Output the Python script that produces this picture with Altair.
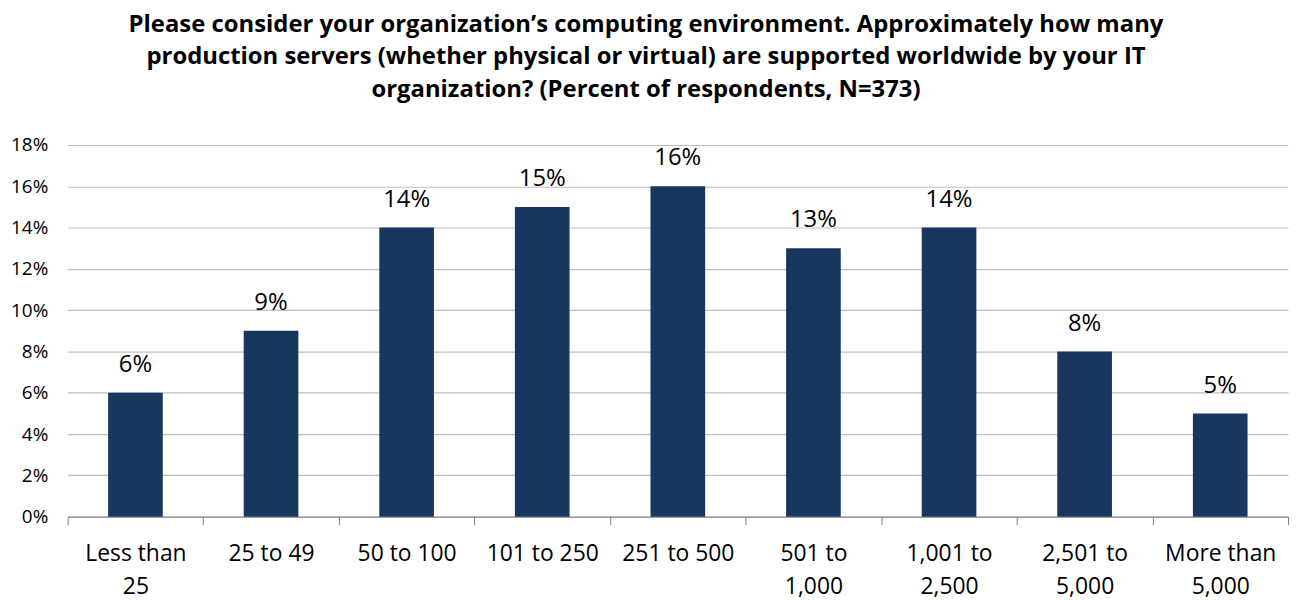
import altair as alt
import pandas as pd

categories = ["Less than\n25", "25 to 49", "50 to 100", "101 to 250", "251 to 500",
              "501 to\n1,000", "1,001 to\n2,500", "2,501 to\n5,000", "More than\n5,000"]
values = [6, 9, 14, 15, 16, 13, 14, 8, 5]
y_ticks = [0, 2, 4, 6, 8, 10, 12, 14, 16, 18]
title_lines = [
    "Please consider your organization\u2019s computing environment. Approximately how many",
    "production servers (whether physical or virtual) are supported worldwide by your IT",
    "organization? (Percent of respondents, N=373)",
]

df = pd.DataFrame({"cat": categories, "val": values})
df["lab"] = df["val"].astype(str) + "%"

FONT = "Open Sans"
BAR = "#17375E"

x = alt.X("cat:N", sort=categories, title=None,
          scale=alt.Scale(paddingInner=0, paddingOuter=0),
          axis=alt.Axis(labelAngle=0, labelFontSize=23, labelLineHeight=33,
                        labelExpr="split(datum.label, '\\n')", labelColor="#000000",
                        labelFont=FONT, labelPadding=18, tickBand="extent",
                        tickSize=8, tickColor="#7F7F7F", domainColor="#7F7F7F",
                        labelBaseline="top", grid=False))
y = alt.Y("val:Q", title=None,
          scale=alt.Scale(domain=[0, 18], nice=False),
          axis=alt.Axis(values=y_ticks, labelExpr="datum.value + '%'",
                        labelFontSize=19, labelFont=FONT, labelColor="#000000",
                        labelPadding=20, domain=False, ticks=False, grid=True,
                        gridColor="#BFBFBF", gridWidth=1.2))

bars = alt.Chart(df).mark_bar(color=BAR, size=55).encode(x=x, y=y)
labels = alt.Chart(df).mark_text(fontSize=24, font=FONT, color="#000000",
                                 baseline="alphabetic", dy=-21).encode(
    x=alt.X("cat:N", sort=categories), y="val:Q", text="lab:N")

chart = (bars + labels).properties(
    width=1228, height=374,
    autosize=alt.AutoSizeParams(type="none"),
    padding={"left": 60, "top": 136, "right": 4, "bottom": 82},
    title=alt.TitleParams(text=title_lines, fontSize=24, font=FONT, fontWeight="bold",
                          lineHeight=33, anchor="middle", dx=-32, offset=34,
                          color="#000000"),
).configure_view(stroke=None)

chart.save("out.html", embed_options={"renderer": "svg", "actions": False})
